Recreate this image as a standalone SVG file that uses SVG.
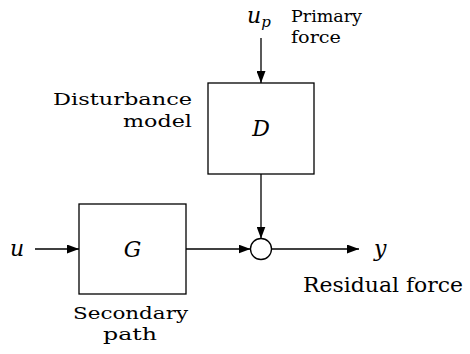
<svg xmlns="http://www.w3.org/2000/svg" width="470" height="354" viewBox="0 0 470 354">
<style>
.t{font-family:"DejaVu Serif","Liberation Serif",serif;font-size:20px;fill:#000}
.s{font-size:17.5px}
.m{font-style:italic;font-size:22px}
.box{fill:#fff;stroke:#000;stroke-width:1.3}
.ln{fill:none;stroke:#000;stroke-width:1.3}
</style>
<defs>
<marker id="ah" viewBox="0 0 12 9" refX="12" refY="4.5" markerWidth="12" markerHeight="9" markerUnits="userSpaceOnUse" orient="auto">
<path d="M0,0 L12,4.5 L0,9 Z" fill="#000"/>
</marker>
</defs>
<g id="connectors">
<line class="ln" x1="35" y1="249" x2="79" y2="249" marker-end="url(#ah)"/>
<line class="ln" x1="186" y1="249" x2="250.5" y2="249" marker-end="url(#ah)"/>
<line class="ln" x1="271.5" y1="249" x2="359" y2="249" marker-end="url(#ah)"/>
<line class="ln" x1="261" y1="38" x2="261" y2="83" marker-end="url(#ah)"/>
<line class="ln" x1="261" y1="174" x2="261" y2="238.5" marker-end="url(#ah)"/>
</g>
<g id="G">
<rect class="box" x="79" y="204" width="107" height="90"/>
<text class="t m" x="132.5" y="257" text-anchor="middle">G</text>
</g>
<g id="D">
<rect class="box" x="208" y="83" width="106" height="91"/>
<text class="t m" x="261" y="136" text-anchor="middle">D</text>
</g>
<g id="sum">
<circle class="ln" cx="261" cy="249" r="10.5" fill="#fff"/>
</g>
<g id="labels">
<text class="t m" x="10" y="256">u</text>
<text class="t m" x="374" y="256">y</text>
<text class="t m" x="247" y="23">u<tspan font-size="15" dy="4">p</tspan></text>
<text class="t s" x="291" y="22" textLength="71" lengthAdjust="spacingAndGlyphs">Primary</text>
<text class="t s" x="291" y="43" textLength="50" lengthAdjust="spacingAndGlyphs">force</text>
<text class="t s" x="192" y="105" text-anchor="end" textLength="139" lengthAdjust="spacingAndGlyphs">Disturbance</text>
<text class="t s" x="192" y="127" text-anchor="end" textLength="69" lengthAdjust="spacingAndGlyphs">model</text>
<text class="t" x="303" y="292" textLength="160" lengthAdjust="spacingAndGlyphs">Residual force</text>
<text class="t s" x="73" y="319" textLength="115" lengthAdjust="spacingAndGlyphs">Secondary</text>
<text class="t s" x="103" y="340" textLength="54" lengthAdjust="spacingAndGlyphs">path</text>
</g>
</svg>
